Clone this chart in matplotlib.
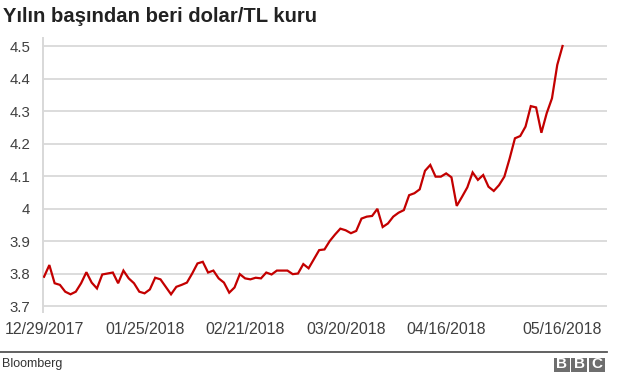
import numpy as np
import pandas as pd
import matplotlib
matplotlib.use("Agg")
import matplotlib.pyplot as plt
from matplotlib.patches import Rectangle

plt.rcParams['font.family'] = ['Liberation Sans', 'DejaVu Sans']

# trading days 29 Dec 2017 .. 16 May 2018
dates = pd.bdate_range('2017-12-29', '2018-05-16')

usd_try = [
    3.790, 3.826, 3.770, 3.765, 3.744, 3.736, 3.744, 3.770, 3.804, 3.772,
    3.754, 3.797, 3.800, 3.803, 3.770, 3.809, 3.785, 3.770, 3.744, 3.739,
    3.751, 3.787, 3.782, 3.759, 3.736, 3.759, 3.765, 3.772, 3.800, 3.831,
    3.836, 3.803, 3.809, 3.785, 3.772, 3.741, 3.757, 3.798, 3.785, 3.782,
    3.787, 3.785, 3.803, 3.797, 3.809, 3.809, 3.809, 3.798, 3.800, 3.829,
    3.816, 3.844, 3.872, 3.874, 3.900, 3.920, 3.938, 3.933, 3.924, 3.931,
    3.969, 3.975, 3.977, 3.999, 3.943, 3.954, 3.975, 3.987, 3.995, 4.041,
    4.047, 4.059, 4.116, 4.134, 4.098, 4.098, 4.108, 4.096, 4.008, 4.036,
    4.065, 4.111, 4.088, 4.103, 4.067, 4.054, 4.072, 4.098, 4.154, 4.216,
    4.223, 4.252, 4.315, 4.311, 4.233, 4.293, 4.339, 4.442, 4.500,
]

tick_dates = ['2017-12-29', '2018-01-25', '2018-02-21', '2018-03-20',
              '2018-04-16', '2018-05-16']
y_ticks = [3.7, 3.8, 3.9, 4.0, 4.1, 4.2, 4.3, 4.4, 4.5]
y_labels = ['3.7', '3.8', '3.9', '4', '4.1', '4.2', '4.3', '4.4', '4.5']

title = 'Yılın başından beri dolar/TL kuru'
source = 'Bloomberg'

W, H = 640, 376
fig = plt.figure(figsize=(W / 100, H / 100), dpi=100)
ax = fig.add_axes([43 / W, 1 - 312 / H, (607 - 43) / W, (312 - 38) / H])

x = np.arange(len(dates))
ax.plot(x, usd_try, color='#c30000', lw=1.6, solid_joinstyle='miter', zorder=3)

ax.set_xlim(-0.2, 106.4)
ax.set_ylim(3.7 - 6 / 325, 4.5 + 8 / 325)

ax.set_yticks(y_ticks)
ax.set_yticklabels(y_labels)
pos = [list(dates.strftime('%Y-%m-%d')).index(d) for d in tick_dates]
ax.set_xticks(pos)
ax.set_xticklabels([pd.Timestamp(d).strftime('%m/%d/%Y') for d in tick_dates])

ax.tick_params(axis='y', length=0, pad=9, labelsize=10.8, labelcolor='#404040')
ax.tick_params(axis='x', length=0, pad=7, labelsize=11.4, labelcolor='#404040')
ax.grid(axis='y', color='#dcdcdc', lw=1.4)
ax.set_axisbelow(True)
for s in ['top', 'right', 'bottom']:
    ax.spines[s].set_visible(False)
ax.spines['left'].set_color('#d8d8d8')
ax.spines['left'].set_linewidth(1.4)

fig.text(3 / W, 1 - 17 / H, title, fontsize=14.6, fontweight='bold',
         color='#222222', va='center', ha='left')

# footer
fig.add_artist(plt.Line2D([0, 607 / W], [1 - 351.5 / H] * 2, color='#555555', lw=1.3))
fig.text(2 / W, 1 - 364 / H, source, fontsize=9, color='#333333', va='center', ha='left')
for i, ch in enumerate('BBC'):
    x0 = 553.5 + i * 17.8
    fig.add_artist(Rectangle((x0 / W, 1 - 371.5 / H), 16 / W, 13.5 / H,
                             facecolor='#6e6e6e', edgecolor='none',
                             transform=fig.transFigure))
    fig.text((x0 + 8) / W, 1 - 364.5 / H, ch, fontsize=11, fontweight='bold',
             color='white', ha='center', va='center')

fig.savefig('out.png', dpi=100)
